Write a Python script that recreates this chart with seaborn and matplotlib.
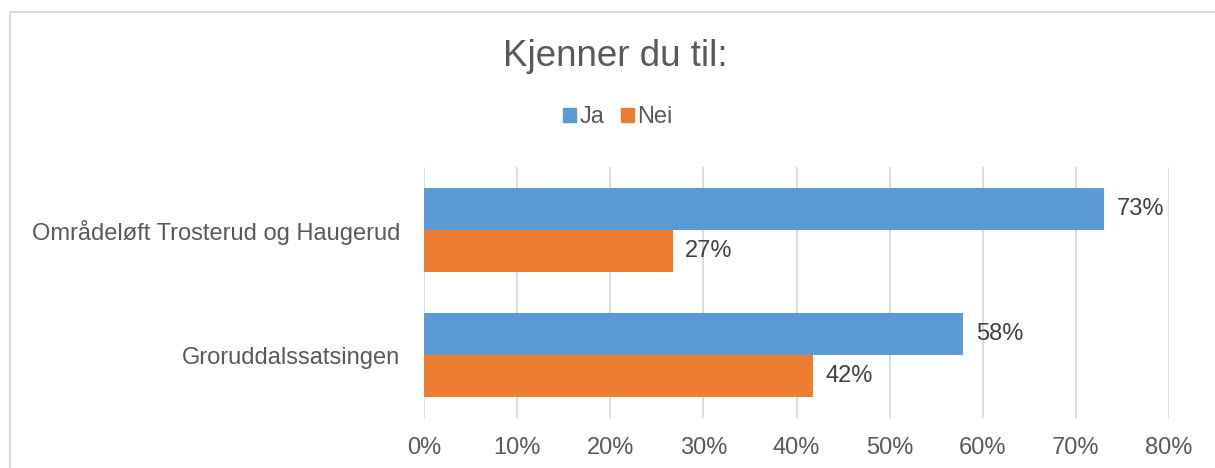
import matplotlib
matplotlib.use("Agg")
import matplotlib.pyplot as plt
import matplotlib.patches as mpatches
import seaborn as sns
import pandas as pd

categories = ["Områdeløft Trosterud og Haugerud", "Groruddalssatsingen"]
series_names = ["Ja", "Nei"]
ja_values = [73.0, 57.9]
nei_values = [26.7, 41.8]
x_ticks = [0, 10, 20, 30, 40, 50, 60, 70, 80]
x_tick_labels = [f"{t}%" for t in x_ticks]
title = "Kjenner du til:"
colors = {"Ja": "#5B9BD5", "Nei": "#ED7D31"}

df = pd.DataFrame({
    "Kategori": categories * 2,
    "Svar": ["Ja"] * len(categories) + ["Nei"] * len(categories),
    "Andel": ja_values + nei_values,
})

sns.set_theme(style="white")
plt.rcParams["font.family"] = ["Liberation Sans", "DejaVu Sans"]

fig = plt.figure(figsize=(12.15, 4.68), dpi=100)
ax = fig.add_axes([424 / 1215, 50 / 468, (1169 - 424) / 1215, 251 / 468])

sns.barplot(data=df, y="Kategori", x="Andel", hue="Svar", hue_order=series_names,
            palette=colors, orient="h", width=0.667, saturation=1, ax=ax,
            legend=False, edgecolor="none", linewidth=0)

ax.set_xlim(0, 80)
ax.set_ylim(1.5, -0.5)
ax.set_xticks(x_ticks)
ax.set_xticklabels(x_tick_labels)
ax.grid(axis="x", color="#D9D9D9", linewidth=1.3)
ax.set_axisbelow(True)
for s in ax.spines.values():
    s.set_visible(False)
ax.set_xlabel("")
ax.set_ylabel("")
ax.tick_params(axis="x", length=0, pad=14, labelsize=17, labelcolor="#595959")
ax.tick_params(axis="y", length=0, pad=17, labelsize=17, labelcolor="#595959")

for cont in ax.containers:
    ax.bar_label(cont, labels=[f"{v:.0f}%" for v in cont.datavalues],
                 padding=9, fontsize=17, color="#404040")

fig.text(615 / 1215, 1 - 57 / 468, title, ha="center", va="center",
         fontsize=26.5, color="#595959")

handles = [mpatches.Patch(color=colors[n], label=n) for n in series_names]
leg = fig.legend(handles=handles, loc="center", bbox_to_anchor=(618 / 1215, 1 - 117 / 468),
                 ncol=2, frameon=False, fontsize=17, handlelength=0.55,
                 handleheight=0.55, handletextpad=0.15, columnspacing=0.7)
for t in leg.get_texts():
    t.set_color("#595959")

border = mpatches.Rectangle((10 / 1215, -0.2), 1.2, 1.2 - 12 / 468 + 0.0,
                            transform=fig.transFigure, fill=False,
                            edgecolor="#D9D9D9", linewidth=1.5, clip_on=False)
fig.patches.append(border)

fig.savefig("out.png", dpi=100)
